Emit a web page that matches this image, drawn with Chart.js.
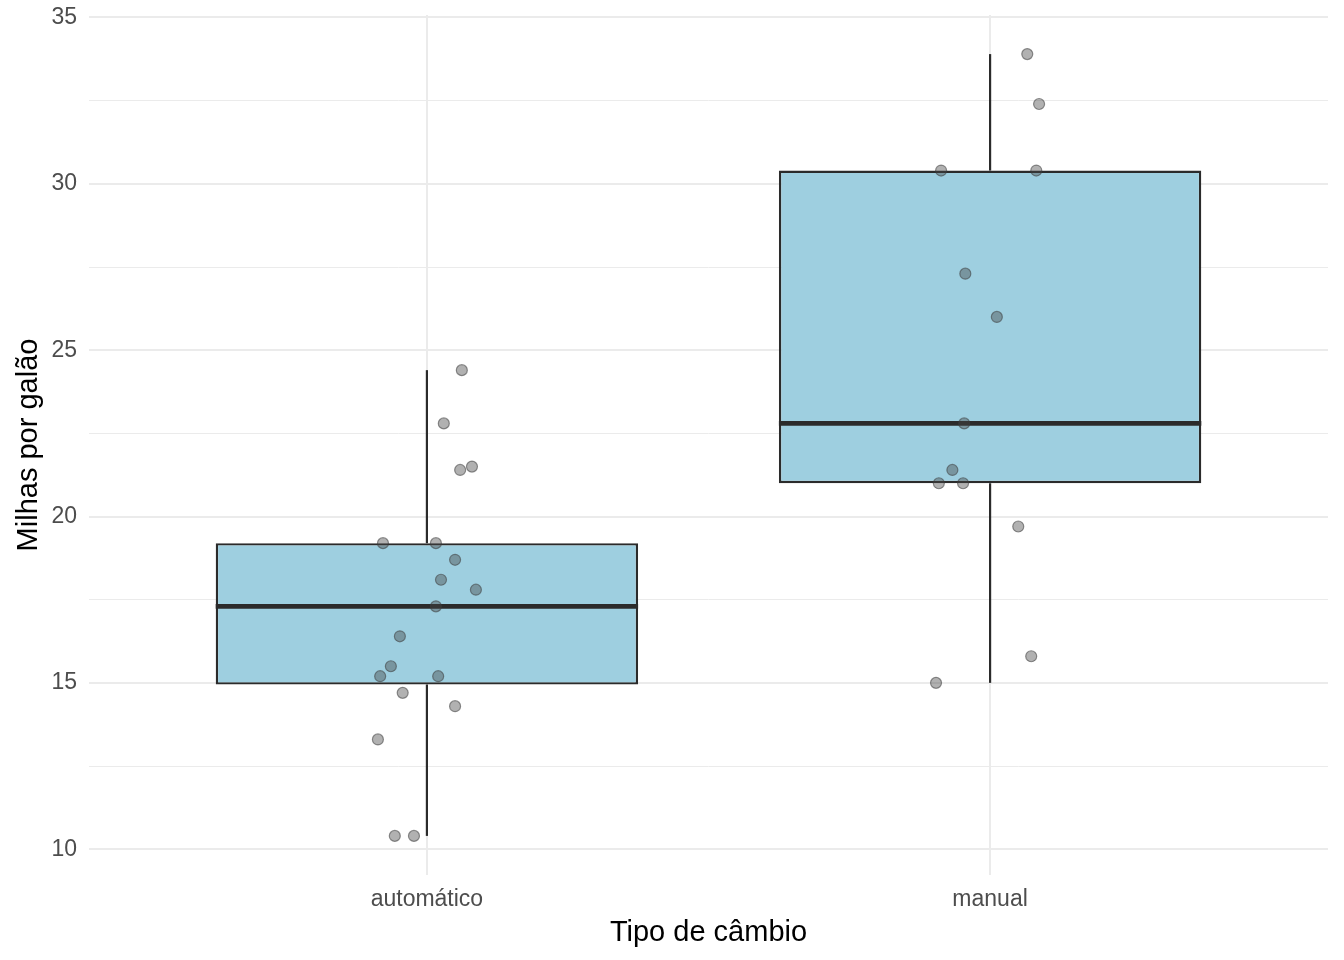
<!DOCTYPE html>
<html>
<head>
<meta charset="utf-8">
<script src="https://cdn.jsdelivr.net/npm/chart.js@4/dist/chart.umd.min.js"></script>
<style>
  html, body { margin: 0; padding: 0; background: #fff; }
  #wrap { width: 1344px; height: 960px; }
</style>
</head>
<body>
<div id="wrap"><canvas id="box-chart"></canvas></div>
<script>
const categories = ["automático", "manual"];
const q1 = [14.95, 21.0];
const medians = [17.3, 22.8];
const q3 = [19.2, 30.4];
const whiskerLow = [10.4, 15.0];
const whiskerHigh = [24.4, 33.9];

// mpg por carro e deslocamento horizontal do jitter
const autoMpg = [24.4, 22.8, 21.4, 21.5, 19.2, 19.2, 18.7, 18.1, 17.8, 17.3, 16.4, 15.5, 15.2, 15.2, 14.7, 14.3, 13.3, 10.4, 10.4];
const autoJitter = [0.062, 0.030, 0.059, 0.080, -0.078, 0.016, 0.050, 0.025, 0.087, 0.016, -0.048, -0.064, -0.083, 0.020, -0.043, 0.050, -0.087, -0.057, -0.023];
const manualMpg = [33.9, 32.4, 30.4, 30.4, 27.3, 26.0, 22.8, 21.4, 21.0, 21.0, 19.7, 15.8, 15.0];
const manualJitter = [0.066, 0.087, -0.087, 0.082, -0.044, 0.012, -0.046, -0.067, -0.091, -0.048, 0.050, 0.073, -0.096];

const yTicks = [10, 12.5, 15, 17.5, 20, 22.5, 25, 27.5, 30, 32.5, 35];
const boxHalf = 0.375;

const boxData = categories.map((c, i) => ({ x: i + 1, y: [q1[i], q3[i]] }));

const lineStyle = { type: "scatter", showLine: true, pointRadius: 0, borderColor: "#2b2b2b" };
const datasets = [];

categories.forEach((c, i) => {
  const x = i + 1;
  datasets.push({ ...lineStyle, borderWidth: 2.2, order: 4,
    data: [{ x: x, y: whiskerLow[i] }, { x: x, y: q1[i] }] });
  datasets.push({ ...lineStyle, borderWidth: 2.2, order: 4,
    data: [{ x: x, y: q3[i] }, { x: x, y: whiskerHigh[i] }] });
  datasets.push({ ...lineStyle, borderWidth: 4.8, order: 2, borderCapStyle: "butt",
    data: [{ x: x - boxHalf, y: medians[i] }, { x: x + boxHalf, y: medians[i] }] });
});

datasets.push({
  type: "bar",
  data: boxData,
  backgroundColor: "#9ecfe0",
  borderColor: "#2b2b2b",
  borderWidth: 2.4,
  borderSkipped: false,
  categoryPercentage: 1,
  barPercentage: 0.75,
  order: 3,
});

function jitterPoints(mpg, jitter, x) {
  return mpg.map((v, i) => ({ x: x + jitter[i], y: v }));
}

datasets.push({
  type: "scatter",
  data: jitterPoints(autoMpg, autoJitter, 1).concat(jitterPoints(manualMpg, manualJitter, 2)),
  pointRadius: 5.5,
  backgroundColor: "rgba(70,70,70,0.42)",
  borderColor: "rgba(60,60,60,0.55)",
  borderWidth: 1.2,
  order: 1,
});

new Chart(document.getElementById("box-chart"), {
  type: "bar",
  data: { datasets: datasets },
  options: {
    responsive: true,
    maintainAspectRatio: false,
    animation: false,
    layout: { padding: { top: 15, right: 16, left: 0, bottom: 0 } },
    plugins: { legend: { display: false }, tooltip: { enabled: false } },
    scales: {
      x: {
        type: "linear",
        min: 0.4,
        max: 2.6,
        offset: false,
        afterBuildTicks: (s) => { s.ticks = [{ value: 1 }, { value: 2 }]; },
        afterFit: (s) => { s.height = 85; s.paddingLeft = 0; s.paddingRight = 0; },
        ticks: {
          callback: (v) => categories[Math.round(v) - 1] || "",
          color: "#4d4d4d",
          font: { family: "Liberation Sans", size: 23 },
          padding: 11,
          maxRotation: 0,
        },
        grid: { color: "#ebebeb", lineWidth: 2, drawTicks: false, offset: false },
        border: { display: false },
        title: {
          display: true,
          text: "Tipo de câmbio",
          color: "#000",
          font: { family: "Liberation Sans", size: 29 },
          padding: { top: 4, bottom: 10 },
        },
      },
      y: {
        type: "linear",
        min: 9.225,
        max: 35.075,
        afterBuildTicks: (s) => { s.ticks = yTicks.map((v) => ({ value: v })); },
        afterFit: (s) => { s.width = 89; s.paddingTop = 0; s.paddingBottom = 0; },
        ticks: {
          callback: (v) => (v % 5 === 0 ? String(v) : ""),
          color: "#4d4d4d",
          font: { family: "Liberation Sans", size: 23 },
          padding: 12,
        },
        grid: {
          color: "#ebebeb",
          lineWidth: (ctx) => (ctx.tick && ctx.tick.value % 5 === 0 ? 2 : 1),
          drawTicks: false,
        },
        border: { display: false },
        title: {
          display: true,
          text: "Milhas por galão",
          color: "#000",
          font: { family: "Liberation Sans", size: 29 },
          padding: { top: 12, bottom: 4 },
        },
      },
    },
  },
});
</script>
</body>
</html>
